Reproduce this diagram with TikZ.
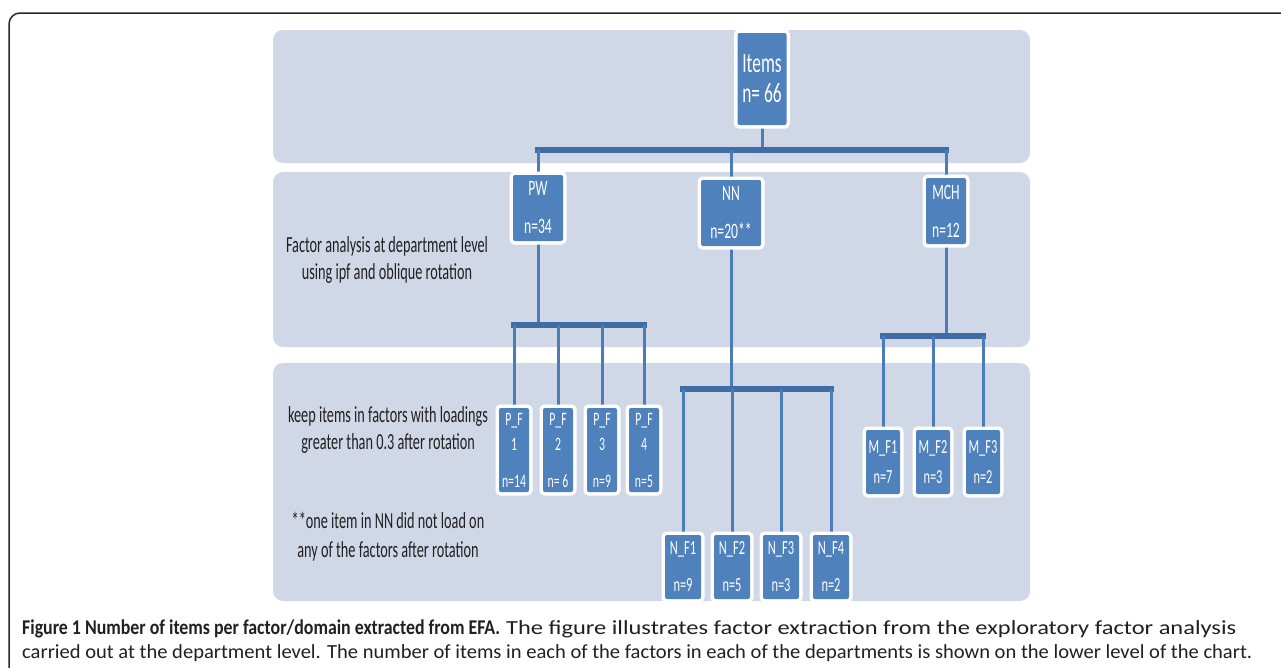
\documentclass[tikz,border=0pt]{standalone}
\usepackage{fontspec}
\usepackage{graphicx}
\setmainfont{Carlito}
\newfontfamily\chartfont{Carlito}[FakeStretch=0.62]
\newfontfamily\capfont{Carlito}
\definecolor{bandc}{RGB}{208,216,231}
\definecolor{boxblue}{RGB}{79,129,189}
\definecolor{connc}{RGB}{74,124,184}
\definecolor{barc}{RGB}{64,108,166}
\definecolor{txt}{RGB}{35,31,32}
\definecolor{framec}{RGB}{40,40,40}
\pgfdeclarelayer{bands}
\pgfdeclarelayer{conns}
\pgfsetlayers{bands,conns,main}
\tikzset{
  band/.style={fill=bandc, draw=none, rounded corners=10pt},
  box/.style={fill=boxblue, draw=none, rounded corners=2pt, text=white, inner sep=0pt, align=center,
    preaction={draw=white, line width=7pt, rounded corners=4pt}},
  conn/.style={draw=connc, line width=3pt},
  bar/.style={draw=barc, line width=5.5pt, line cap=rect},
  sidetext/.style={align=center, text=txt, inner sep=0pt, font=\chartfont\fontsize{23}{27}\selectfont},
  lvltwo/.style={box, minimum height=66pt, font=\chartfont\fontsize{22}{38}\selectfont},
  pfbox/.style={box, minimum width=30pt, minimum height=84pt, font=\chartfont\fontsize{19}{25}\selectfont},
  nfbox/.style={box, minimum width=36pt, minimum height=64pt, font=\chartfont\fontsize{20}{37}\selectfont},
  mfbox/.style={box, minimum width=34pt, minimum height=64pt, font=\chartfont\fontsize{20}{30}\selectfont},
}
\begin{document}
\begin{tikzpicture}[x=1pt,y=-1pt]
\useasboundingbox (0,0) rectangle (1281,667);
\begin{pgfonlayer}{bands}
\fill[white] (0,0) rectangle (1281,667);
\path[band] (273,30) rectangle (1030,163);
\path[band] (273,172) rectangle (1030,347);
\path[band] (273,363) rectangle (1030,601);
\end{pgfonlayer}
% outer frame
\draw[framec, line width=1.5pt, rounded corners=11pt] (9,668) -- (9,13) -- (1282,13);
% nodes
\node[box, minimum width=49pt, minimum height=92pt, font=\chartfont\fontsize{28}{30}\selectfont] (items) at (762,79) {Items\\n= 66};
\node[lvltwo, minimum width=50pt] (pw) at (538,208) {PW\\n=34};
\node[lvltwo, minimum width=60pt] (nn) at (731,213) {NN\\n=20**};
\node[lvltwo, minimum width=40pt] (mch) at (946,211) {MCH\\n=12};
\node[pfbox] (pf1) at (514,450) {P\_F\\1\\[12pt]n=14};
\node[pfbox] (pf2) at (558,450) {P\_F\\2\\[12pt]n= 6};
\node[pfbox] (pf3) at (602,450) {P\_F\\3\\[12pt]n=9};
\node[pfbox] (pf4) at (644,450) {P\_F\\4\\[12pt]n=5};
\node[nfbox] (nf1) at (683,567) {N\_F1\\n=9};
\node[nfbox] (nf2) at (732,567) {N\_F2\\n=5};
\node[nfbox] (nf3) at (781,567) {N\_F3\\n=3};
\node[nfbox] (nf4) at (831,567) {N\_F4\\n=2};
\node[mfbox] (mf1) at (883,462) {M\_F1\\n=7};
\node[mfbox] (mf2) at (933,462) {M\_F2\\n=3};
\node[mfbox] (mf3) at (983,462) {M\_F3\\n=2};
% side texts
\node[sidetext] (t1) at (387,260) {Factor analysis at department level\\using ipf and oblique rotation};
\node[sidetext] (t2) at (388,430) {keep items in factors with loadings\\greater than 0.3 after rotation};
\node[sidetext, font=\chartfont\fontsize{23}{29}\selectfont] (t3) at (388,537) {**one item in NN did not load on\\any of the factors after rotation};
% bar coordinates
\coordinate (b1) at (762,150);
\coordinate (b2) at (538,325);
\coordinate (b3) at (731,389);
\coordinate (b4) at (946,336);
% connectors
\begin{pgfonlayer}{conns}
\draw[conn] (items.south) -- (b1);
\draw[bar] (pw.north |- b1) -- (mch.north |- b1);
\foreach \n in {pw,nn,mch} \draw[conn] (\n.north |- b1) -- (\n.north);
\draw[conn] (pw.south) -- (b2);
\draw[bar] (pf1.north |- b2) -- (pf4.north |- b2);
\foreach \n in {pf1,pf2,pf3,pf4} \draw[conn] (\n.north |- b2) -- (\n.north);
\draw[conn] (nn.south) -- (b3);
\draw[bar] (nf1.north |- b3) -- (nf4.north |- b3);
\foreach \n in {nf1,nf2,nf3,nf4} \draw[conn] (\n.north |- b3) -- (\n.north);
\draw[conn] (mch.south) -- (b4);
\draw[bar] (mf1.north |- b4) -- (mf3.north |- b4);
\foreach \n in {mf1,mf2,mf3} \draw[conn] (\n.north |- b4) -- (\n.north);
\end{pgfonlayer}
% caption
\node[anchor=base west, inner sep=0pt, text=txt] (cap1) at (22,634) {\resizebox{478pt}{\height}{\capfont\fontsize{21}{22}\selectfont\textbf{Figure 1 Number of items per factor/domain extracted from EFA.}}\hspace{6pt}\resizebox{730pt}{\height}{\capfont\fontsize{20}{22}\selectfont The figure illustrates factor extraction from the exploratory factor analysis}};
\node[anchor=base west, inner sep=0pt, text=txt] (cap2) at (22,658) {\resizebox{1230pt}{\height}{\capfont\fontsize{20}{22}\selectfont carried out at the department level. The number of items in each of the factors in each of the departments is shown on the lower level of the chart.}};
\end{tikzpicture}
\end{document}
